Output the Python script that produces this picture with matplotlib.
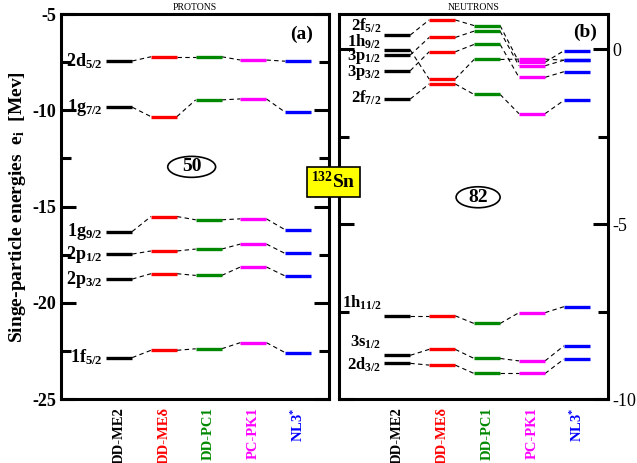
import matplotlib
matplotlib.use('Agg')
import matplotlib.pyplot as plt
from matplotlib.patches import Ellipse

plt.rcParams['font.family'] = 'Liberation Serif'
plt.rcParams['font.weight'] = 'bold'
plt.rcParams['mathtext.fontset'] = 'custom'
plt.rcParams['mathtext.rm'] = 'Liberation Serif:bold'
plt.rcParams['mathtext.bf'] = 'Liberation Serif:bold'
plt.rcParams['mathtext.it'] = 'Liberation Serif:italic:bold'
plt.rcParams['mathtext.default'] = 'bf'
plt.rcParams['axes.unicode_minus'] = False

# Models and colours
models = ['DD-ME2', 'DD-ME\u03b4', 'DD-PC1', 'PC-PK1', 'NL3$^{*}$']
colors = ['black', 'red', '#008800', 'magenta', 'blue']

# Proton levels (MeV)
p_labels = ['2d$_{5/2}$', '1g$_{7/2}$', '1g$_{9/2}$', '2p$_{1/2}$', '2p$_{3/2}$', '1f$_{5/2}$']
p_ddme2 = [-7.44, -9.84, -16.30, -17.47, -18.77, -22.85]
p_ddmed = [-7.22, -10.33, -15.52, -17.31, -18.49, -22.47]
p_ddpc1 = [-7.22, -9.46, -15.69, -17.21, -18.58, -22.39]
p_pcpk1 = [-7.39, -9.41, -15.64, -16.95, -18.14, -22.07]
p_nl3s = [-7.45, -10.10, -16.21, -17.44, -18.61, -22.59]

# Neutron levels (MeV)
n_labels = ['2f$_{5/2}$', '1h$_{9/2}$', '3p$_{1/2}$', '3p$_{3/2}$', '2f$_{7/2}$',
            '1h$_{11/2}$', '3s$_{1/2}$', '2d$_{3/2}$']
n_ddme2 = [0.41, -0.02, -0.16, -0.61, -1.42, -7.62, -8.75, -8.98]
n_ddmed = [0.84, -0.85, 0.34, -0.07, -0.99, -7.62, -8.58, -9.03]
n_ddpc1 = [0.68, -0.29, 0.52, 0.14, -1.29, -7.84, -8.84, -9.27]
n_pcpk1 = [-0.37, -0.28, -0.47, -0.80, -1.84, -7.53, -8.91, -9.27]
n_nl3s = [-0.04, -0.31, -0.31, -0.64, -1.46, -7.36, -8.48, -8.86]

# where the level names sit next to the DD-ME2 column
n_label_y = [0.66, 0.22, -0.20, -0.67, -1.40, -7.26, -8.37, -9.03]

hw = 0.29


def draw_levels(ax, series):
    for i in range(len(series) - 1):
        for a, b in zip(series[i], series[i + 1]):
            ax.plot([i + hw, i + 1 - hw], [a, b], color='k', lw=0.8,
                    dashes=(4, 3), zorder=1)
    for i, (vals, c) in enumerate(zip(series, colors)):
        for v in vals:
            ax.plot([i - hw, i + hw], [v, v], color=c, lw=2.4,
                    solid_capstyle='butt', zorder=2)


def style_axis(ax):
    for s in ax.spines.values():
        s.set_linewidth(2.2)
    ax.set_xlim(-1.3, 4.69)
    ax.set_xticks(range(len(models)))
    ax.set_xticklabels(models, rotation=90, fontsize=10.5)
    for lab, c in zip(ax.get_xticklabels(), colors):
        lab.set_color(c)
    ax.tick_params(axis='x', length=0, pad=6)
    ax.tick_params(axis='y', which='both', direction='in', left=True,
                   right=True, width=2.2)
    ax.tick_params(axis='y', which='major', length=11)
    ax.tick_params(axis='y', which='minor', length=7)


def magic_number(ax, x, y, w, h, txt):
    ax.add_patch(Ellipse((x, y), w, h, fc='white', ec='k', lw=1.2, zorder=3))
    ax.text(x, y, txt, ha='center', va='center', fontsize=14, zorder=4)


fig = plt.figure(figsize=(6.37, 4.63), dpi=100)
axp = fig.add_axes([0.0958, 0.1382, 0.4207, 0.8315])
axn = fig.add_axes([0.532, 0.1382, 0.4223, 0.8315])

# protons
draw_levels(axp, [p_ddme2, p_ddmed, p_ddpc1, p_pcpk1, p_nl3s])
style_axis(axp)
axp.set_ylim(-25, -5)
axp.set_yticks([-5, -10, -15, -20, -25])
axp.set_yticks([-7.5, -12.5, -17.5, -22.5], minor=True)
axp.tick_params(axis='y', labelsize=13)
for lab, v in zip(p_labels, p_ddme2):
    axp.text(-hw - 0.07, v, lab, ha='right', va='center', fontsize=13)
axp.set_title('PROTONS', fontsize=7, pad=3)
axp.text(0.94, 0.97, '(a)', transform=axp.transAxes, ha='right', va='top',
         fontsize=14)
magic_number(axp, 1.62, -12.94, 1.07, 1.09, '50')

# neutrons
draw_levels(axn, [n_ddme2, n_ddmed, n_ddpc1, n_pcpk1, n_nl3s])
style_axis(axn)
axn.set_ylim(-10, 1.01)
axn.set_yticks([0, -5, -10])
axn.set_yticks([-2.5, -7.5], minor=True)
axn.tick_params(axis='y', labelleft=False, labelright=True, labelsize=13)
for t in axn.get_yticklabels():
    t.set_fontweight('normal')
for lab, v in zip(n_labels, n_label_y):
    axn.text(-hw - 0.06, v, lab, ha='right', va='center', fontsize=12)
axn.set_title('NEUTRONS', fontsize=7, pad=3)
axn.text(0.96, 0.975, '(b)', transform=axn.transAxes, ha='right', va='top',
         fontsize=14)
magic_number(axn, 1.80, -4.23, 0.98, 0.6, '82')

fig.text(0.027, 0.5537, 'Singe-particle energies  e$_{i}$  [Mev]', rotation=90,
         ha='center', va='center', fontsize=14)
fig.text(0.523, 0.607, '$^{132}$Sn', ha='center', va='center', fontsize=14,
         bbox=dict(boxstyle='square,pad=0.22', fc='yellow', ec='k', lw=1.2))

fig.savefig('out.png', dpi=100)
